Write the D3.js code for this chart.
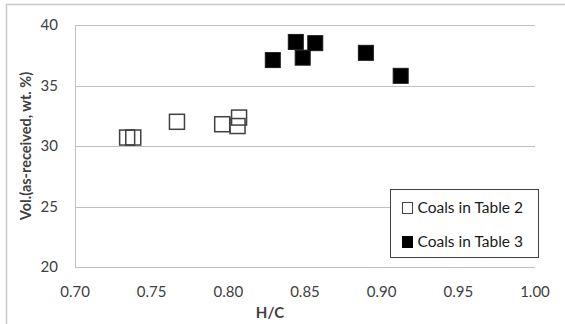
<!DOCTYPE html>
<html>
<head>
<meta charset="utf-8">
<script src="https://cdnjs.cloudflare.com/ajax/libs/d3/7.8.5/d3.min.js"></script>
<style>
  body { margin: 0; background: #fff; }
  svg text { font-family: Lato, "Open Sans", sans-serif; fill: #404040; }
</style>
</head>
<body>
<svg width="565" height="324"></svg>
<script>
// H/C ratio vs volatile matter (as-received, wt. %)
const table2HC  = [0.734, 0.738, 0.7665, 0.796, 0.806, 0.807]
const table2Vol = [30.7, 30.7, 32.0, 31.8, 31.65, 32.35]
const table3HC  = [0.829, 0.844, 0.8485, 0.8567, 0.8897, 0.9124]
const table3Vol = [37.1, 38.6, 37.3, 38.5, 37.7, 35.8]
const xTicks = [0.70, 0.75, 0.80, 0.85, 0.90, 0.95, 1.00]
const yTicks = [20, 25, 30, 35, 40]
const seriesNames = ["Coals in Table 2", "Coals in Table 3"]

const margin = {top: 25, right: 30, bottom: 57, left: 75}
const width = 565 - margin.left - margin.right,
height = 324 - margin.top - margin.bottom

const svg = d3.select("svg")

// chart frame
svg.append("rect")
  .attr("x", 6.5).attr("y", 4.5)
  .attr("width", 600).attr("height", 400)
  .attr("fill", "none").attr("stroke", "#c8c8c8").attr("stroke-width", 1.5)

const g = svg.append("g").attr("transform", `translate(${margin.left},${margin.top})`)

const x = d3.scaleLinear().domain([0.70, 1.00]).range([0, width])
const y = d3.scaleLinear().domain([20, 40]).range([height, 0])

// gridlines
g.append("g")
  .selectAll("line")
  .data(yTicks)
  .join("line")
  .attr("x1", 0).attr("x2", width)
  .attr("y1", d => Math.round(y(d)) + 0.5).attr("y2", d => Math.round(y(d)) + 0.5)
  .attr("stroke", "#bfbfbf")

g.append("line")
  .attr("x1", 0.5).attr("x2", 0.5).attr("y1", 0).attr("y2", height)
  .attr("stroke", "#bfbfbf")

// tick labels
g.append("g").selectAll("text")
  .data(yTicks).join("text")
  .attr("x", -17).attr("y", d => y(d)).attr("dy", "0.35em")
  .attr("text-anchor", "end").style("font-size", "15px")
  .text(d => d)

g.append("g").selectAll("text")
  .data(xTicks).join("text")
  .attr("x", d => x(d)).attr("y", height + 25).attr("dy", "0.35em")
  .attr("text-anchor", "middle").style("font-size", "15px")
  .text(d => d.toFixed(2))

// axis titles
svg.append("text")
  .attr("transform", `translate(26,${margin.top + height / 2}) rotate(-90)`)
  .attr("text-anchor", "middle").attr("dy", "0.35em")
  .style("font-size", "14.5px").style("font-weight", "bold")
  .text("Vol.(as-received, wt. %)")

svg.append("text")
  .attr("x", 270).attr("y", 313).attr("dy", "0.35em")
  .attr("text-anchor", "middle")
  .style("font-size", "15px").style("font-weight", "bold")
  .text("H/C")

// points
const s = 15
g.append("g").selectAll("rect")
  .data(d3.zip(table2HC, table2Vol)).join("rect")
  .attr("x", d => x(d[0]) - s / 2).attr("y", d => y(d[1]) - s / 2)
  .attr("width", s).attr("height", s)
  .attr("fill", "none").attr("stroke", "#404040").attr("stroke-width", 1.5)

g.append("g").selectAll("rect")
  .data(d3.zip(table3HC, table3Vol)).join("rect")
  .attr("x", d => x(d[0]) - s / 2).attr("y", d => y(d[1]) - s / 2)
  .attr("width", s).attr("height", s)
  .attr("fill", "#000").attr("stroke", "#1a1a1a").attr("stroke-width", 1)

// legend
const legend = svg.append("g").attr("transform", "translate(390.5,189.5)")
legend.append("rect")
  .attr("width", 148).attr("height", 68)
  .attr("fill", "#fff").attr("stroke", "#404040")

legend.selectAll("g.item")
  .data(seriesNames).join("g").classed("item", true)
  .attr("transform", (d, i) => `translate(0,${18 + i * 34})`)
  .call(item => item.append("rect")
    .attr("x", 12).attr("y", -5).attr("width", 10).attr("height", 11)
    .attr("fill", (d, i) => i ? "#000" : "#fff")
    .attr("stroke", (d, i) => i ? "#000" : "#404040"))
  .call(item => item.append("text")
    .attr("x", 27).attr("dy", "0.35em").style("font-size", "15.5px")
    .style("fill", "#1a1a1a")
    .text(d => d))
</script>
</body>
</html>
